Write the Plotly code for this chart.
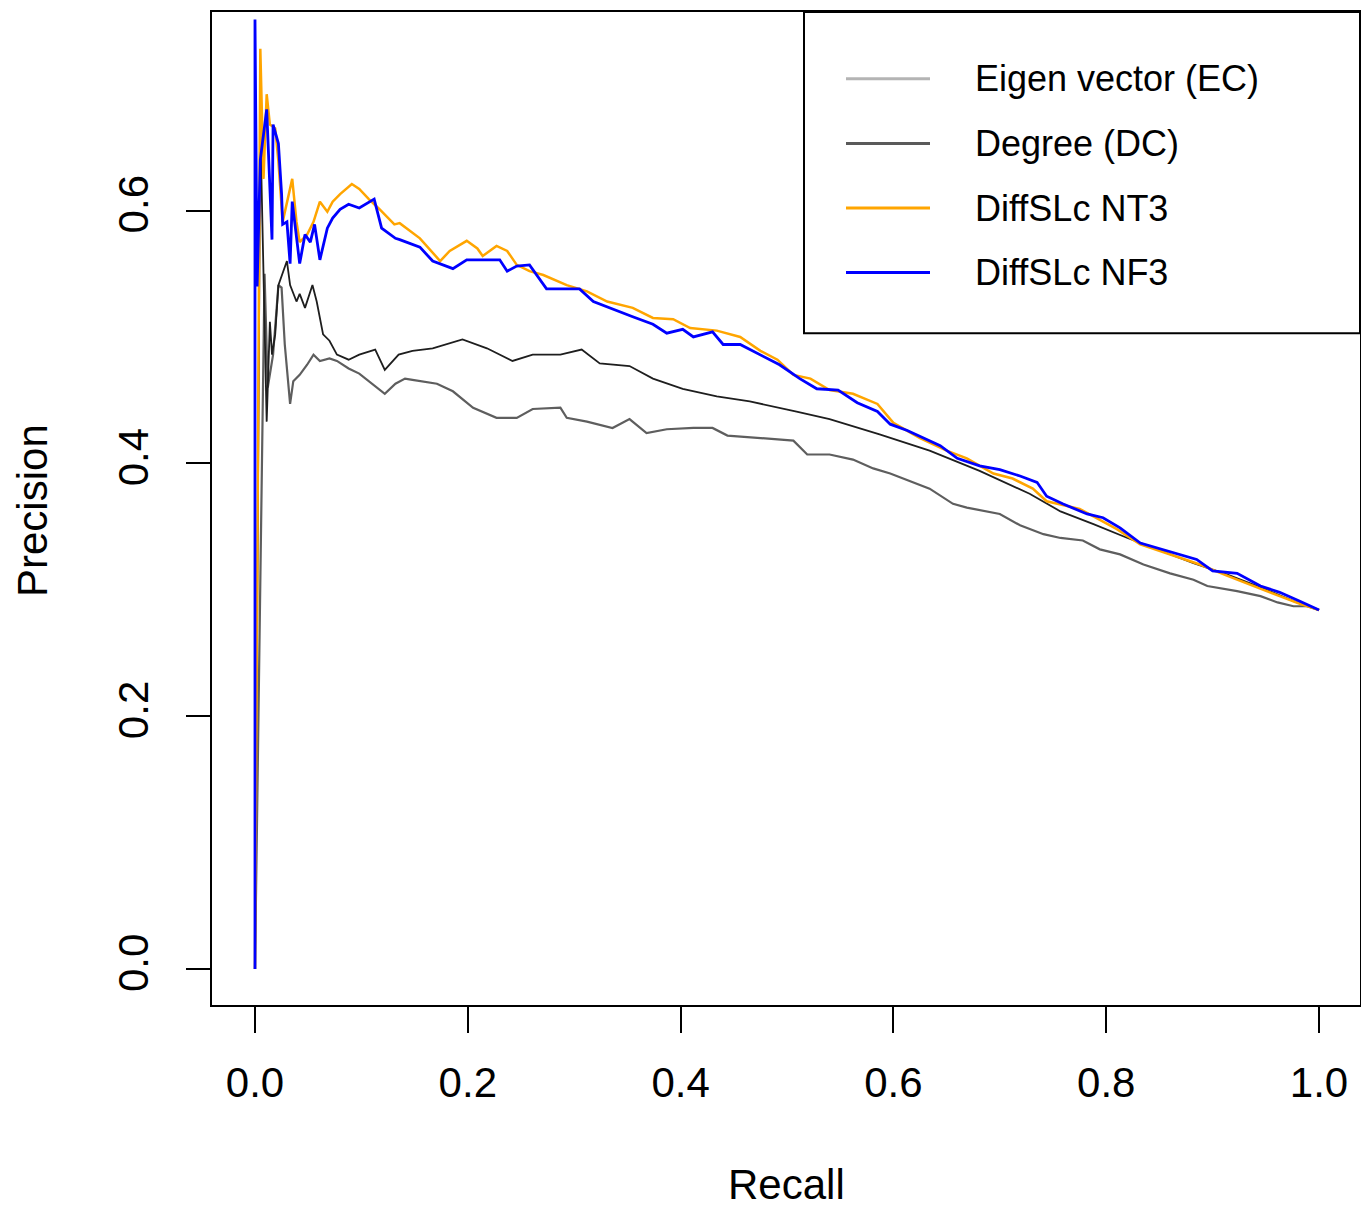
import plotly.graph_objects as go

# precision / recall curves
ec_recall = [0, 0.009, 0.012, 0.017, 0.022, 0.025, 0.028, 0.033, 0.036, 0.042, 0.049, 0.055, 0.061,
             0.070, 0.077, 0.088, 0.098, 0.110, 0.122, 0.132, 0.141, 0.148, 0.155, 0.171, 0.186,
             0.205, 0.227, 0.246, 0.261, 0.287, 0.293, 0.312, 0.336, 0.352, 0.368, 0.387, 0.412,
             0.430, 0.444, 0.475, 0.491, 0.506, 0.519, 0.540, 0.562, 0.581, 0.597, 0.618, 0.634,
             0.656, 0.669, 0.700, 0.719, 0.741, 0.757, 0.778, 0.794, 0.813, 0.835, 0.860, 0.882,
             0.895, 0.923, 0.945, 0.961, 0.976, 0.989, 1.0]
ec_precision = [0, 0.550, 0.460, 0.486, 0.541, 0.539, 0.494, 0.447, 0.465, 0.470, 0.478, 0.486, 0.481,
                0.483, 0.481, 0.475, 0.471, 0.463, 0.455, 0.463, 0.467, 0.466, 0.465, 0.463, 0.457,
                0.444, 0.436, 0.436, 0.443, 0.444, 0.436, 0.433, 0.428, 0.435, 0.424, 0.427, 0.428,
                0.428, 0.422, 0.420, 0.419, 0.418, 0.407, 0.407, 0.403, 0.396, 0.392, 0.385, 0.380,
                0.368, 0.365, 0.360, 0.351, 0.344, 0.341, 0.339, 0.332, 0.328, 0.320, 0.313, 0.308,
                0.303, 0.299, 0.295, 0.290, 0.287, 0.287, 0.284]

dc_recall = [0, 0.005, 0.011, 0.014, 0.016, 0.019, 0.022, 0.030, 0.033, 0.036, 0.039, 0.042, 0.047,
             0.054, 0.058, 0.064, 0.070, 0.077, 0.088, 0.098, 0.113, 0.122, 0.135, 0.148, 0.167,
             0.195, 0.218, 0.242, 0.261, 0.287, 0.307, 0.324, 0.352, 0.374, 0.402, 0.434, 0.465,
             0.509, 0.540, 0.587, 0.634, 0.681, 0.728, 0.757, 0.788, 0.820, 0.851, 0.882, 0.914,
             0.945, 0.976, 1.0]
dc_precision = [0, 0.667, 0.433, 0.512, 0.486, 0.502, 0.541, 0.560, 0.541, 0.534, 0.528, 0.534, 0.523,
                0.541, 0.528, 0.502, 0.497, 0.486, 0.482, 0.486, 0.490, 0.474, 0.486, 0.489, 0.491,
                0.498, 0.491, 0.481, 0.486, 0.486, 0.490, 0.479, 0.477, 0.467, 0.459, 0.453, 0.449,
                0.441, 0.435, 0.423, 0.410, 0.394, 0.376, 0.362, 0.352, 0.341, 0.331, 0.321, 0.312,
                0.302, 0.291, 0.284]

nt3_recall = [0, 0.005, 0.008, 0.011, 0.014, 0.019, 0.022, 0.026, 0.035, 0.039, 0.042, 0.049, 0.055,
              0.061, 0.068, 0.073, 0.080, 0.091, 0.098, 0.107, 0.117, 0.131, 0.136, 0.155, 0.174,
              0.183, 0.199, 0.209, 0.214, 0.227, 0.237, 0.246, 0.258, 0.271, 0.293, 0.312, 0.331,
              0.355, 0.374, 0.393, 0.409, 0.434, 0.456, 0.475, 0.491, 0.506, 0.522, 0.540, 0.562,
              0.585, 0.600, 0.625, 0.650, 0.669, 0.694, 0.712, 0.731, 0.744, 0.775, 0.788, 0.810,
              0.832, 0.860, 0.888, 0.914, 0.938, 0.963, 0.982, 1.0]
nt3_precision = [0, 0.728, 0.625, 0.692, 0.668, 0.665, 0.639, 0.591, 0.625, 0.591, 0.575, 0.581, 0.591,
                 0.607, 0.599, 0.607, 0.613, 0.621, 0.617, 0.609, 0.601, 0.589, 0.590, 0.578, 0.560,
                 0.568, 0.576, 0.570, 0.564, 0.572, 0.568, 0.557, 0.552, 0.549, 0.541, 0.536, 0.528,
                 0.523, 0.515, 0.514, 0.507, 0.505, 0.500, 0.489, 0.482, 0.470, 0.467, 0.458, 0.455,
                 0.447, 0.432, 0.420, 0.410, 0.404, 0.392, 0.388, 0.380, 0.370, 0.364, 0.358, 0.348,
                 0.336, 0.328, 0.320, 0.311, 0.303, 0.295, 0.289, 0.284]

nf3_recall = [0, 0, 0.002, 0.005, 0.011, 0.016, 0.017, 0.022, 0.025, 0.026, 0.030, 0.033, 0.035, 0.038,
              0.042, 0.047, 0.052, 0.056, 0.061, 0.068, 0.073, 0.080, 0.088, 0.098, 0.112, 0.119,
              0.132, 0.136, 0.155, 0.167, 0.186, 0.199, 0.214, 0.230, 0.237, 0.246, 0.258, 0.274,
              0.287, 0.305, 0.318, 0.336, 0.355, 0.374, 0.387, 0.402, 0.412, 0.430, 0.440, 0.456,
              0.475, 0.493, 0.512, 0.528, 0.548, 0.566, 0.585, 0.597, 0.613, 0.628, 0.644, 0.660,
              0.681, 0.700, 0.719, 0.735, 0.744, 0.759, 0.782, 0.797, 0.813, 0.832, 0.857, 0.885,
              0.900, 0.923, 0.945, 0.963, 0.982, 1.0]
nf3_precision = [0, 0.751, 0.540, 0.640, 0.680, 0.577, 0.668, 0.653, 0.613, 0.589, 0.591, 0.558, 0.607,
                 0.586, 0.558, 0.581, 0.575, 0.589, 0.561, 0.586, 0.594, 0.601, 0.605, 0.602, 0.609,
                 0.586, 0.578, 0.577, 0.571, 0.560, 0.554, 0.561, 0.561, 0.561, 0.552, 0.556, 0.557,
                 0.538, 0.538, 0.538, 0.528, 0.522, 0.516, 0.510, 0.503, 0.506, 0.500, 0.504, 0.494,
                 0.494, 0.486, 0.478, 0.467, 0.459, 0.458, 0.448, 0.441, 0.431, 0.426, 0.420, 0.414,
                 0.404, 0.398, 0.395, 0.390, 0.385, 0.374, 0.368, 0.360, 0.357, 0.349, 0.337, 0.331,
                 0.324, 0.315, 0.313, 0.303, 0.298, 0.291, 0.284]

legend_names = ["Eigen vector (EC)", "Degree (DC)", "DiffSLc NT3", "DiffSLc NF3"]
legend_colors = ["#b4b4b4", "#5a5a5a", "#ffa500", "#0000ff"]

# the page body has an 8px margin, so the figure is shrunk by 8px to land at the same spot
OFF = 8
W, H = 1369 - OFF, 1207 - OFF
L, R, T, B = 212 - OFF, 9, 10 - OFF, 202
FONT = "Liberation Sans, Arial, sans-serif"
PW, PH = W - L - R, H - T - B


# screen pixel -> paper coords
def px(x):
    return (x - 212) / PW


def py(y):
    return (1005 - y) / PH


fig = go.Figure()
fig.add_trace(go.Scatter(x=ec_recall, y=ec_precision, mode="lines",
                         line=dict(color="#5e5e5e", width=2.2), showlegend=False))
fig.add_trace(go.Scatter(x=dc_recall, y=dc_precision, mode="lines",
                         line=dict(color="#1e1e1e", width=1.8), showlegend=False))
fig.add_trace(go.Scatter(x=nt3_recall, y=nt3_precision, mode="lines",
                         line=dict(color="#ffa500", width=2.5), showlegend=False))
fig.add_trace(go.Scatter(x=nf3_recall, y=nf3_precision, mode="lines",
                         line=dict(color="#0000ff", width=2.8), showlegend=False))

# legend box drawn by hand, R style
shapes = [dict(type="rect", xref="paper", yref="paper", x0=px(804), x1=px(1360), y0=py(332), y1=py(10),
               line=dict(color="black", width=2), fillcolor="white", layer="above")]
annotations = []
for i, (name, col) in enumerate(zip(legend_names, legend_colors)):
    yy = 77 + i * 64.7
    shapes.append(dict(type="line", xref="paper", yref="paper", x0=px(846), x1=px(930),
                       y0=py(yy), y1=py(yy), line=dict(color=col, width=3), layer="above"))
    annotations.append(dict(text=name, xref="paper", yref="paper", x=px(973), y=py(yy),
                            xanchor="left", yanchor="middle", showarrow=False,
                            font=dict(size=36, color="black", family=FONT)))

annotations.append(dict(text="Recall", xref="paper", yref="paper", x=px(786), y=py(1185),
                        xanchor="center", yanchor="middle", showarrow=False,
                        font=dict(size=42, color="black", family=FONT)))
annotations.append(dict(text="Precision", xref="paper", yref="paper", x=px(33), y=py(510),
                        xanchor="center", yanchor="middle", showarrow=False, textangle=-90,
                        font=dict(size=42, color="black", family=FONT)))

fig.update_layout(
    width=W, height=H,
    margin=dict(l=L, r=R, t=T, b=B, pad=0),
    paper_bgcolor="white", plot_bgcolor="white",
    font=dict(family=FONT, size=42, color="black"),
    shapes=shapes, annotations=annotations,
    showlegend=False,
)
fig.update_xaxes(range=[-0.0404, 1.0385], tickvals=[0, 0.2, 0.4, 0.6, 0.8, 1.0],
                 ticktext=["0.0", "0.2", "0.4", "0.6", "0.8", "1.0"],
                 showgrid=False, zeroline=False, showline=True, mirror=True,
                 linecolor="black", linewidth=2, ticks="outside", ticklen=26, tickwidth=2,
                 tickcolor="black", tickfont=dict(size=42), ticklabelstandoff=14)
fig.update_yaxes(range=[-0.0284, 0.757], tickvals=[0, 0.2, 0.4, 0.6],
                 ticktext=["0.0", "0.2", "0.4", "0.6"], tickangle=-90,
                 showgrid=False, zeroline=False, showline=True, mirror=True,
                 linecolor="black", linewidth=2, ticks="outside", ticklen=24, tickwidth=2,
                 tickcolor="black", tickfont=dict(size=42), ticklabelstandoff=21)

fig.write_html("out.html")
